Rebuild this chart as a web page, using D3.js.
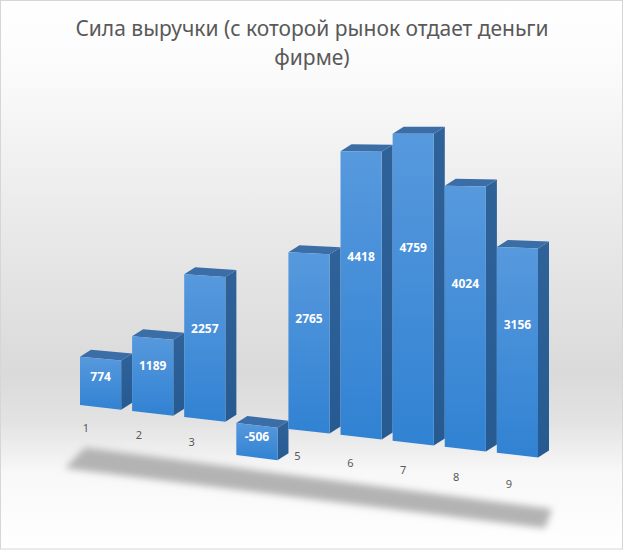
<!DOCTYPE html>
<html>
<head>
<meta charset="utf-8">
<script src="https://cdn.jsdelivr.net/npm/d3@7"></script>
<style>
  body { margin: 0; background: #fff; }
  svg { display: block; }
</style>
</head>
<body>
<div id="chart"></div>
<script>
// data
var categories = ["1", "2", "3", "4", "5", "6", "7", "8", "9"];
var revenue = [774, 1189, 2257, -506, 2765, 4418, 4759, 4024, 3156];
var titleLines = ["Сила выручки (с которой рынок отдает деньги", "фирме)"];

var width = 625, height = 551;
var depthX = 11, depthY = -7;

var svg = d3.select("#chart").append("svg")
    .attr("width", width)
    .attr("height", height);

var defs = svg.append("defs");

var bg = defs.append("linearGradient")
    .attr("id", "bg").attr("x1", 0).attr("y1", 0).attr("x2", 0).attr("y2", 1);
[[0, "#ffffff"], [0.12, "#fbfbfb"], [0.45, "#e7e7e7"], [0.68, "#dadada"],
 [0.77, "#e3e3e3"], [0.86, "#f8f8f8"], [1, "#ffffff"]].forEach(function(s) {
    bg.append("stop").attr("offset", s[0]).attr("stop-color", s[1]);
});

var front = defs.append("linearGradient")
    .attr("id", "front").attr("x1", 0).attr("y1", 0).attr("x2", 0).attr("y2", 1);
front.append("stop").attr("offset", 0).attr("stop-color", "#5799dd");
front.append("stop").attr("offset", 1).attr("stop-color", "#3182d3");

var side = defs.append("linearGradient")
    .attr("id", "side").attr("x1", 0).attr("y1", 0).attr("x2", 0).attr("y2", 1);
side.append("stop").attr("offset", 0).attr("stop-color", "#30629a");
side.append("stop").attr("offset", 1).attr("stop-color", "#265a91");

defs.append("filter").attr("id", "blur")
    .attr("x", "-10%").attr("y", "-50%").attr("width", "120%").attr("height", "200%")
  .append("feGaussianBlur").attr("stdDeviation", 3.5);

svg.append("rect")
    .attr("x", 0.5).attr("y", 0.5)
    .attr("width", width - 3).attr("height", height - 2.5)
    .attr("fill", "url(#bg)")
    .attr("stroke", "#d6d6d6");

// scales
var x = d3.scaleBand()
    .domain(categories)
    .range([80, 538])
    .paddingInner(0.21)
    .paddingOuter(0);

// floor line (zero) slopes down to the right
var base = d3.scaleLinear().domain([80, 538]).range([405, 457.5]);
// pixels per 1000 units, grows a little toward the viewer
var perK = d3.scaleLinear().domain([80, 538]).range([62.5, 65.5]);

var labelX = d3.scalePoint().domain(categories).range([86, 509]);
var labelY = d3.scaleLinear().domain([86, 509]).range([428, 484]);

var data = categories.map(function(c, i) { return {cat: c, v: revenue[i]}; });

// shadow under the bars
var r = x.range();
var shadowPts = [
    [r[0] + 5, base(r[0] + 5) + 42],
    [r[1] + 14, base(r[1] + 14) + 50],
    [r[1] + 7, base(r[1] + 7) + 70],
    [r[0] - 15, base(r[0] - 15) + 65]
];
svg.append("polygon")
    .attr("points", shadowPts.map(function(p) { return p.join(","); }).join(" "))
    .attr("fill", "#b3b3b3")
    .attr("filter", "url(#blur)");

// category labels (drawn before bars, "4" sits behind its bar)
svg.append("g").selectAll("text")
    .data(categories)
  .enter().append("text")
    .attr("x", function(d) { return labelX(d); })
    .attr("y", function(d) { return labelY(labelX(d)); })
    .attr("dy", "0.35em")
    .attr("text-anchor", "middle")
    .style("font-family", "'Noto Sans', sans-serif")
    .style("font-size", "11px")
    .style("fill", "#595959")
    .text(function(d) { return d; });

function pts(a) { return a.map(function(p) { return p.join(","); }).join(" "); }

var bars = svg.append("g").selectAll("g")
    .data(data)
  .enter().append("g");

bars.each(function(d) {
    var g = d3.select(this);
    var xl = x(d.cat), xr = xl + x.bandwidth();
    var k = perK(xl);
    var yL = d3.scaleLinear().domain([0, 1000]).range([base(xl), base(xl) - k]);
    var yR = d3.scaleLinear().domain([0, 1000]).range([base(xr), base(xr) - k * 1.015]);
    var top = Math.max(d.v, 0), bot = Math.min(d.v, 0);

    g.append("polygon")
        .attr("points", pts([[xr, yR(top)], [xr + depthX, yR(top) + depthY],
                             [xr + depthX, yR(bot) + depthY], [xr, yR(bot)]]))
        .attr("fill", "url(#side)");
    g.append("polygon")
        .attr("points", pts([[xl, yL(top)], [xr, yR(top)],
                             [xr + depthX, yR(top) + depthY], [xl + depthX, yL(top) + depthY]]))
        .attr("fill", "#3b6ea7");
    g.append("polygon")
        .attr("points", pts([[xl, yL(top)], [xr, yR(top)], [xr, yR(bot)], [xl, yL(bot)]]))
        .attr("fill", "url(#front)");

    var cx = (xl + xr) / 2;
    var yc = (yL(bot + (top - bot) * 0.63) + yR(bot + (top - bot) * 0.63)) / 2;
    g.append("text")
        .attr("x", cx)
        .attr("y", yc)
        .attr("dy", "0.35em")
        .attr("text-anchor", "middle")
        .style("font-family", "'Noto Sans', sans-serif")
        .style("font-size", "12px")
        .style("font-weight", "bold")
        .style("fill", "#ffffff")
        .text(d.v);
});

// title
svg.append("g").selectAll("text")
    .data(titleLines)
  .enter().append("text")
    .attr("x", 312)
    .attr("y", function(d, i) { return 36 + i * 28.5; })
    .attr("text-anchor", "middle")
    .style("font-family", "'Noto Sans', sans-serif")
    .style("font-size", "21px")
    .style("fill", "#595959")
    .text(function(d) { return d; });
</script>
</body>
</html>
